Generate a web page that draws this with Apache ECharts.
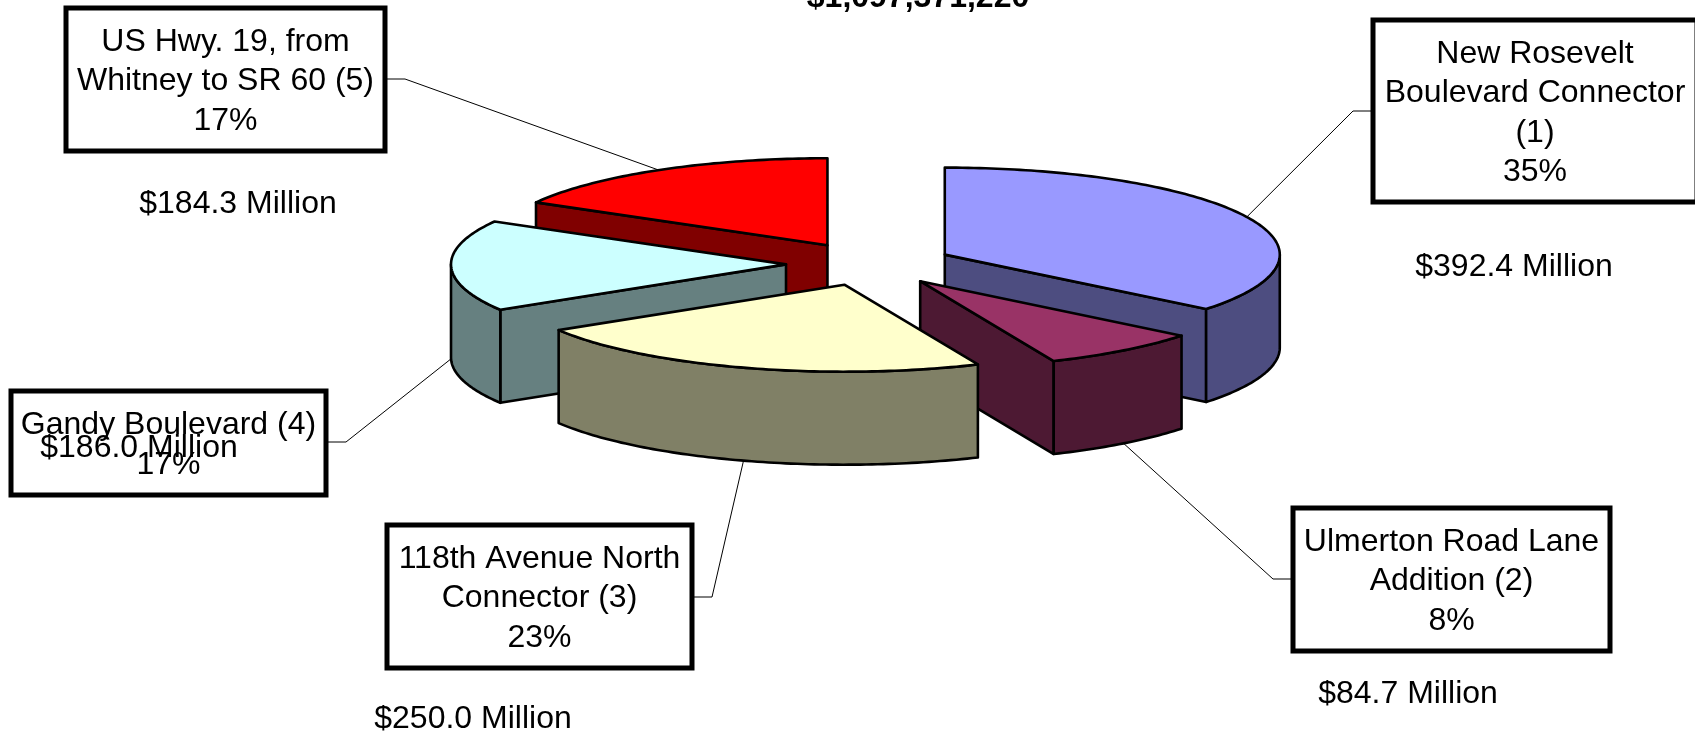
<!DOCTYPE html>
<html>
<head>
<meta charset="utf-8">
<title>Project cost shares</title>
<style>
html, body { margin: 0; padding: 0; background: #fff; overflow: hidden; }
#map { width: 1695px; height: 732px; }
</style>
<script src="https://cdn.jsdelivr.net/npm/echarts@6/dist/echarts.min.js"></script>
</head>
<body>
<div id="map"></div>
<script>
// chart data, in slice order (clockwise from 12 o'clock)
var categories = ['New Rosevelt\nBoulevard Connector\n(1)', 'Ulmerton Road Lane\nAddition (2)', '118th Avenue North\nConnector (3)', 'Gandy Boulevard (4)', 'US Hwy. 19, from\nWhitney to SR 60 (5)'];
var shareLabels = ['35%', '8%', '23%', '17%', '17%'];
var millions = [392.4, 84.7, 250.0, 186.0, 184.3];
var totalLabel = '$1,097,371,220';

var topColors = ['#9999FF', '#993366', '#FFFFCC', '#CCFFFF', '#FF0000'];
var sideColors = ['#4D4D80', '#4D1933', '#808066', '#668080', '#800000'];

// pie geometry
var cx = 869.5, cy = 264;
var rx = 335, ry = 87;
var depth = 93;
var explode = 83.5;

// label layout: [x0, y0, x1, y1] of each box, elbow of the leader, amount label centre
var boxes = [[1373, 20, 1697, 202], [1293, 508, 1610, 651], [387, 525, 692, 668], [11, 391, 326, 495], [66, 8, 385, 151]];
var elbows = [[1353, 111], [1273, 579], [712, 597], [346, 442], [405, 79]];
var amountPos = [[1514, 267], [1408, 694], [473, 719], [139, 448], [238, 204]];

var font = '"Liberation Sans", Arial, sans-serif';
var fontSize = 32;

var total = millions.reduce(function(a, b) { return a + b; }, 0);
var angles = [0];
for (var i = 0; i < millions.length; i++) {
	angles.push(angles[i] + echarts.number.linearMap(millions[i], [0, total], [0, 360]));
}

function apexOf(i) {
	var mid = (angles[i] + angles[i + 1]) / 2 * Math.PI / 180;
	return [cx + explode * Math.sin(mid), cy - explode * ry / rx * Math.cos(mid)];
}

function rimPoint(apex, deg, dy) {
	var a = deg * Math.PI / 180;
	return [apex[0] + rx * Math.sin(a), apex[1] - ry * Math.cos(a) + (dy || 0)];
}

function arcPoints(apex, from, to, dy) {
	var pts = [];
	var n = Math.max(2, Math.ceil(Math.abs(to - from)));
	for (var k = 0; k <= n; k++) {
		pts.push(rimPoint(apex, from + (to - from) * k / n, dy));
	}
	return pts;
}

function face(points, fill, z2) {
	return {
		type: 'polygon',
		z2: z2,
		shape: { points: points },
		style: { fill: fill, stroke: '#000', lineWidth: 2.6, lineJoin: 'round' }
	};
}

// back slices first: the further up the apex, the earlier it is drawn
function drawRank(i) {
	var rank = 0;
	for (var j = 0; j < millions.length; j++) {
		if (apexOf(j)[1] < apexOf(i)[1]) rank++;
	}
	return rank;
}

function renderSlice(params) {
	var i = params.dataIndex;
	var apex = apexOf(i);
	var start = angles[i], end = angles[i + 1];
	var base = 10 + drawRank(i) * 10;
	var children = [];
	var side = sideColors[i];

	// radial cut faces, only those turned towards the viewer
	[[start, Math.sin(start * Math.PI / 180) < -0.001], [end, Math.sin(end * Math.PI / 180) > 0.001]].forEach(function(f) {
		if (f[1]) {
			var rim = rimPoint(apex, f[0]);
			children.push(face([apex, rim, [rim[0], rim[1] + depth], [apex[0], apex[1] + depth]], side, base));
		}
	});

	// outer wall, front half of the rim only
	var wallFrom = Math.max(start, 90), wallTo = Math.min(end, 270);
	if (wallTo > wallFrom) {
		children.push(face(arcPoints(apex, wallFrom, wallTo, 0).concat(arcPoints(apex, wallTo, wallFrom, depth)), side, base + 1));
	}

	children.push(face([apex].concat(arcPoints(apex, start, end, 0)), topColors[i], base + 2));
	return { type: 'group', children: children };
}

function renderLeader(params) {
	var i = params.dataIndex;
	var apex = apexOf(i);
	var mid = (angles[i] + angles[i + 1]) / 2;
	var box = boxes[i];
	var elbow = elbows[i];
	var end = rimPoint(apex, mid, Math.cos(mid * Math.PI / 180) < 0 ? depth : 0);
	var edgeX = elbow[0] < box[0] ? box[0] : box[2];
	return {
		type: 'polyline',
		shape: { points: [[edgeX, elbow[1]], elbow, end] },
		style: { fill: 'none', stroke: '#000', lineWidth: 1 }
	};
}

var graphics = [];
for (var b = 0; b < boxes.length; b++) {
	var r = boxes[b];
	graphics.push({
		type: 'rect', z: 20,
		shape: { x: r[0], y: r[1], width: r[2] - r[0], height: r[3] - r[1] },
		style: { fill: '#fff', stroke: '#000', lineWidth: 5 }
	});
	graphics.push({
		type: 'text', z: 21,
		x: (r[0] + r[2]) / 2, y: (r[1] + r[3]) / 2 + 2,
		style: {
			text: categories[b] + '\n' + shareLabels[b],
			font: fontSize + 'px ' + font,
			lineHeight: 39.5, fill: '#000', align: 'center', verticalAlign: 'middle'
		}
	});
	graphics.push({
		type: 'text', z: 22,
		x: amountPos[b][0], y: amountPos[b][1],
		style: {
			text: '$' + millions[b].toFixed(1) + ' Million',
			font: fontSize + 'px ' + font,
			fill: '#000', align: 'center', verticalAlign: 'middle'
		}
	});
}
// total, cut off by the top of the page like in the source
graphics.push({
	type: 'text', z: 22,
	x: 918, y: -2,
	style: {
		text: totalLabel,
		font: 'bold ' + fontSize + 'px ' + font,
		fill: '#000', align: 'center', verticalAlign: 'middle'
	}
});

var myChart = echarts.init(document.getElementById('map'), null, { renderer: 'canvas' });
myChart.setOption({
	animation: false,
	backgroundColor: '#fff',
	graphic: { elements: graphics },
	series: [{
		type: 'custom',
		name: 'leaders',
		coordinateSystem: 'none',
		silent: true,
		z: 1,
		renderItem: renderLeader,
		data: millions
	}, {
		type: 'custom',
		name: 'slices',
		coordinateSystem: 'none',
		silent: true,
		z: 2,
		renderItem: renderSlice,
		data: millions
	}]
});
</script>
</body>
</html>
